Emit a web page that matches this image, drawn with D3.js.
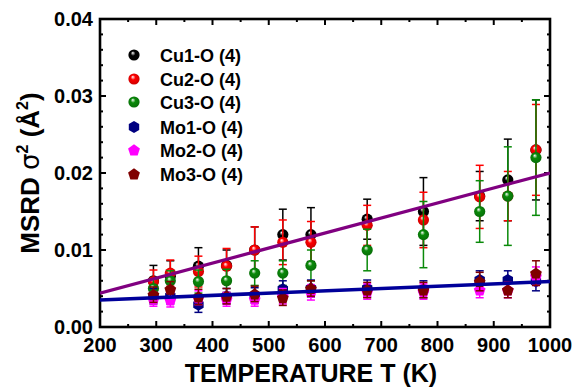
<!DOCTYPE html>
<html><head><meta charset="utf-8">
<script src="https://cdn.jsdelivr.net/npm/d3@7"></script>
<style>body{margin:0;background:#fff;} text{font-family:"Liberation Sans",Arial,sans-serif;font-weight:bold;}</style>
</head><body>
<svg id="c" width="573" height="389"></svg>
<script>
const temps = [295,325,375,425,475,525,575,675,775,875,925,975];
const cu1 = [0.0060,0.0066,0.0079,0.0080,0.0100,0.0120,0.0120,0.0140,0.0150,0.0170,0.0191,0.0230];
const cu1Err = [0.0020,0.0020,0.0024,0.0020,0.0030,0.0033,0.0035,0.0026,0.0044,0.0032,0.0053,0.0065];
const cu2 = [0.0059,0.0070,0.0072,0.0079,0.0100,0.0110,0.0110,0.0132,0.0139,0.0169,0.0170,0.0230];
const cu2Err = [0.0015,0.0017,0.0020,0.0023,0.0030,0.0029,0.0027,0.0026,0.0036,0.0041,0.0032,0.0059];
const cu3 = [0.0050,0.0060,0.0059,0.0060,0.0070,0.0070,0.0080,0.0100,0.0120,0.0150,0.0170,0.0220];
const cu3Err = [0.0012,0.0013,0.0015,0.0015,0.0016,0.0016,0.0020,0.0027,0.0043,0.0040,0.0064,0.0075];
const mo1 = [0.0040,0.0040,0.0029,0.0040,0.0041,0.0049,0.0050,0.0050,0.0049,0.0061,0.0061,0.0059];
const mo1Err = [0.0010,0.0010,0.0010,0.0010,0.0010,0.0011,0.0011,0.0011,0.0011,0.0012,0.0012,0.0012];
const mo2 = [0.0036,0.0035,0.0038,0.0036,0.0036,0.0040,0.0045,0.0046,0.0046,0.0048,0.0048,0.0066];
const mo2Err = [0.0009,0.0009,0.0009,0.0009,0.0009,0.0010,0.0010,0.0010,0.0010,0.0010,0.0010,0.0012];
const mo3 = [0.0042,0.0049,0.0039,0.0040,0.0043,0.0038,0.0050,0.0048,0.0048,0.0059,0.0048,0.0070];
const mo3Err = [0.0010,0.0010,0.0010,0.0010,0.0010,0.0010,0.0010,0.0010,0.0010,0.0012,0.0010,0.0016];
const seriesNames = ["Cu1-O (4)","Cu2-O (4)","Cu3-O (4)","Mo1-O (4)","Mo2-O (4)","Mo3-O (4)"];
const fitCu = [[200,0.0044],[1000,0.0200]];
const fitMo = [[200,0.0035],[1000,0.0059]];
const xTicks = [200,300,400,500,600,700,800,900,1000];
const yTicks = [0.00,0.01,0.02,0.03,0.04];

const series = [
  {name:seriesNames[0], v:cu1, e:cu1Err, color:"#000000", shape:"sphere"},
  {name:seriesNames[1], v:cu2, e:cu2Err, color:"#ff0000", shape:"sphere"},
  {name:seriesNames[2], v:cu3, e:cu3Err, color:"#0a8a0a", shape:"sphere"},
  {name:seriesNames[3], v:mo1, e:mo1Err, color:"#000080", shape:"hex"},
  {name:seriesNames[4], v:mo2, e:mo2Err, color:"#ff00ff", shape:"pent"},
  {name:seriesNames[5], v:mo3, e:mo3Err, color:"#800000", shape:"pent"}
];

const svg = d3.select("#c");
const L=100,R=550,T=19,B=327;
const x = d3.scaleLinear().domain([200,1000]).range([L,R]);
const y = d3.scaleLinear().domain([0,0.04]).range([B,T]);

const defs = svg.append("defs");
series.forEach((s,i)=>{
  if(s.shape!=="sphere") return;
  const g = defs.append("radialGradient").attr("id","g"+i).attr("cx","0.5").attr("cy","0.5").attr("r","0.6").attr("fx","0.38").attr("fy","0.3");
  g.append("stop").attr("offset","0%").attr("stop-color","#ffffff");
  g.append("stop").attr("offset","35%").attr("stop-color",s.color);
  g.append("stop").attr("offset","100%").attr("stop-color",d3.color(s.color).darker(0.8));
});
defs.append("clipPath").attr("id","clip").append("rect").attr("x",L).attr("y",T).attr("width",R-L).attr("height",B-T);

function polyPath(n, r, rot){
  const pts=[];
  for(let k=0;k<n;k++){const a=rot+k*2*Math.PI/n;pts.push([r*Math.cos(a),r*Math.sin(a)]);}
  return "M"+pts.map(p=>p[0].toFixed(2)+","+p[1].toFixed(2)).join("L")+"Z";
}
function drawMarker(g, s, i, cx, cy){
  if(s.shape==="sphere"){
    g.append("circle").attr("cx",cx).attr("cy",cy).attr("r",5.6).attr("fill","url(#g"+i+")");
  } else if(s.shape==="hex"){
    g.append("path").attr("d",polyPath(6,6,Math.PI/6)).attr("transform",`translate(${cx},${cy})`).attr("fill",s.color);
  } else {
    g.append("path").attr("d",polyPath(5,6.2,-Math.PI/2)).attr("transform",`translate(${cx},${cy+0.5})`).attr("fill",s.color);
  }
}

// axes (box with inward ticks)
const axG = svg.append("g");
const xMinor = d3.range(250,1000,100);
const yMinor = d3.range(0.002,0.04,0.002).filter(v=>Math.abs(v*100-Math.round(v*100))>1e-6);
const tk = (x1,y1,x2,y2,w)=>axG.append("line").attr("x1",x1).attr("y1",y1).attr("x2",x2).attr("y2",y2).attr("stroke","#000").attr("stroke-width",w);
xTicks.forEach(t=>{ tk(x(t),B,x(t),B-6,2); tk(x(t),T,x(t),T+6,2); });
xMinor.forEach(t=>{ tk(x(t),B,x(t),B-3,2); tk(x(t),T,x(t),T+3,2); });
yTicks.forEach(t=>{ tk(L,y(t),L+6,y(t),2); tk(R,y(t),R-6,y(t),2); });
yMinor.forEach(t=>{ tk(L,y(t),L+3,y(t),2); tk(R,y(t),R-3,y(t),2); });
axG.append("rect").attr("x",L).attr("y",T).attr("width",R-L).attr("height",B-T).attr("fill","none").attr("stroke","#000").attr("stroke-width",2.6);

axG.selectAll(".xl").data(xTicks).enter().append("text").attr("x",d=>x(d)).attr("y",352).attr("text-anchor","middle").attr("font-size",20).text(d=>d);
axG.selectAll(".yl").data(yTicks).enter().append("text").attr("x",93).attr("y",d=>y(d)+7).attr("text-anchor","end").attr("font-size",20).text(d=>d.toFixed(2));

svg.append("text").attr("x",311).attr("y",382).attr("text-anchor","middle").attr("font-size",25).text("TEMPERATURE T (K)");
const yt = svg.append("text").attr("transform","translate(39,173) rotate(-90)").attr("text-anchor","middle").attr("font-size",26);
yt.append("tspan").text("MSRD ");
yt.append("tspan").text("σ").attr("font-family","DejaVu Sans").attr("font-weight","normal");
yt.append("tspan").text("2").attr("font-size",16).attr("dy",-11);
yt.append("tspan").text(" (Å").attr("dy",11);
yt.append("tspan").text("2").attr("font-size",16).attr("dy",-11);
yt.append("tspan").text(")").attr("dy",11);

// data
const dG = svg.append("g").attr("clip-path","url(#clip)");
series.forEach((s,i)=>{
  const g = dG.append("g");
  temps.forEach((t,j)=>{
    const cx=x(t), v=s.v[j], e=s.e[j];
    g.append("line").attr("x1",cx).attr("x2",cx).attr("y1",y(v-e)).attr("y2",y(v+e)).attr("stroke",s.color).attr("stroke-width",1.5);
    [v-e,v+e].forEach(w=>g.append("line").attr("x1",cx-4).attr("x2",cx+4).attr("y1",y(w)).attr("y2",y(w)).attr("stroke",s.color).attr("stroke-width",1.5));
  });
  temps.forEach((t,j)=>drawMarker(g,s,i,x(t),y(s.v[j])));
});
const line = d3.line().x(d=>x(d[0])).y(d=>y(d[1]));
dG.append("path").attr("d",line(fitCu)).attr("stroke","#800080").attr("stroke-width",3.2).attr("fill","none");
dG.append("path").attr("d",line(fitMo)).attr("stroke","#00009a").attr("stroke-width",3.6).attr("fill","none");

// legend
const legY=[55,79,102,127,150,174];
series.forEach((s,i)=>{
  const g=svg.append("g");
  drawMarker(g,s,i,134,legY[i]);
  g.append("text").attr("x",160).attr("y",legY[i]+6.5).attr("font-size",18).text(s.name);
});
</script>
</body></html>
